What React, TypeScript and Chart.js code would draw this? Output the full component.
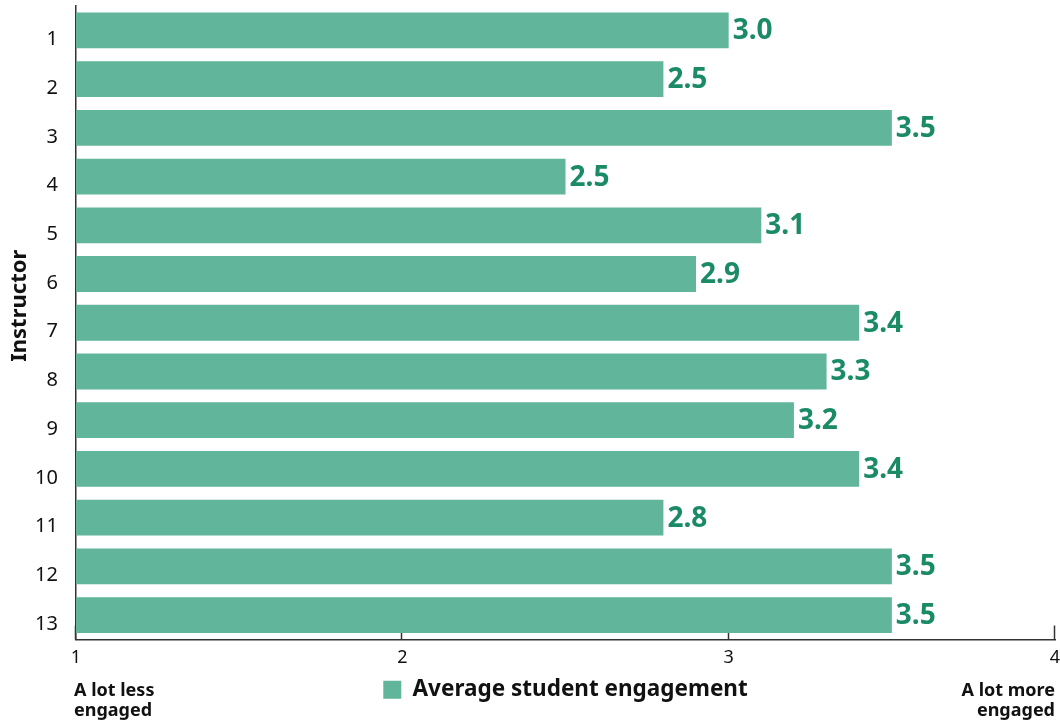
import React, { useEffect, useRef } from "react";
import { Chart, registerables } from "chart.js";

Chart.register(...registerables);

const categories = ["1", "2", "3", "4", "5", "6", "7", "8", "9", "10", "11", "12", "13"];
const engagement = [3.0, 2.8, 3.5, 2.5, 3.1, 2.9, 3.4, 3.3, 3.2, 3.4, 2.8, 3.5, 3.5];
const valueLabels = ["3.0", "2.5", "3.5", "2.5", "3.1", "2.9", "3.4", "3.3", "3.2", "3.4", "2.8", "3.5", "3.5"];
const xMin = 1;
const xMax = 4;
const leftEndLabel = ["A lot less", "engaged"];
const rightEndLabel = ["A lot more", "engaged"];
const seriesName = "Average student engagement";
const yTitle = "Instructor";

const FONT = "'Noto Sans', sans-serif";
const BAR = "#60b59b";
const LABEL = "#1b8a66";
const INK = "#111111";
const AXIS = "#333333";

const extras = {
  id: "extras",
  beforeDatasetsDraw(chart: any) {
    const { ctx, chartArea } = chart;
    const xs = chart.scales.x;
    ctx.save();
    ctx.strokeStyle = AXIS;
    ctx.lineWidth = 1.5;
    for (let v = xMin; v <= xMax; v++) {
      const px = Math.round(xs.getPixelForValue(v)) - 0.5;
      ctx.beginPath();
      ctx.moveTo(px, chartArea.bottom);
      ctx.lineTo(px, chartArea.bottom - 14);
      ctx.stroke();
    }
    ctx.restore();
  },
  afterDatasetsDraw(chart: any) {
    const { ctx } = chart;
    const meta = chart.getDatasetMeta(0);
    ctx.save();
    ctx.fillStyle = LABEL;
    ctx.font = `bold 28px ${FONT}`;
    ctx.textAlign = "left";
    ctx.textBaseline = "middle";
    meta.data.forEach((bar: any, i: number) => {
      ctx.fillText(valueLabels[i], bar.x + 4, bar.y + 1);
    });
    ctx.restore();
  },
  afterDraw(chart: any) {
    const { ctx, chartArea } = chart;
    const xs = chart.scales.x;
    ctx.save();
    ctx.fillStyle = INK;
    ctx.font = `bold 18px ${FONT}`;
    ctx.textBaseline = "alphabetic";
    const x1 = xs.getPixelForValue(xMin);
    const x4 = xs.getPixelForValue(xMax);
    ctx.textAlign = "left";
    leftEndLabel.forEach((t, i) => ctx.fillText(t, x1 - 2, chartArea.bottom + 56 + i * 20));
    ctx.textAlign = "right";
    rightEndLabel.forEach((t, i) => ctx.fillText(t, x4, chartArea.bottom + 56 + i * 20));
    // y-axis title
    ctx.font = `bold 22px ${FONT}`;
    ctx.translate(20, (chartArea.top + chartArea.bottom) / 2 - 17);
    ctx.rotate(-Math.PI / 2);
    ctx.textAlign = "center";
    ctx.textBaseline = "middle";
    ctx.fillText(yTitle, 0, 0);
    ctx.restore();
  },
};

export default function App() {
  const ref = useRef<HTMLCanvasElement>(null);
  useEffect(() => {
    if (!ref.current) return;
    const chart = new Chart(ref.current, {
      type: "bar",
      data: {
        labels: categories,
        datasets: [
          {
            label: seriesName,
            data: engagement,
            backgroundColor: BAR,
            borderWidth: 0,
            categoryPercentage: 1,
            barPercentage: 0.735,
          },
        ],
      },
      options: {
        indexAxis: "y",
        animation: false,
        responsive: false,
        maintainAspectRatio: false,
        layout: { padding: { top: 6, right: 5, left: 0, bottom: 10 } },
        plugins: {
          legend: {
            position: "bottom",
            fullSize: false,
            labels: {
              boxWidth: 18,
              boxHeight: 18,
              padding: 3,
              color: INK,
              font: { family: FONT, size: 22.5, weight: "bold" },
            },
          },
          tooltip: { enabled: false },
        },
        scales: {
          x: {
            type: "linear",
            min: xMin,
            max: xMax,
            ticks: {
              stepSize: 1,
              color: INK,
              padding: 0,
              font: { family: FONT, size: 18 },
            },
            grid: { display: false },
            border: { display: true, color: AXIS, width: 1.5 },
            afterFit: (s: any) => {
              s.height = 36;
              s.paddingLeft = 0;
              s.paddingRight = 0;
              s.paddingTop = 0;
              s.paddingBottom = 0;
            },
          },
          y: {
            ticks: {
              color: INK,
              padding: 10,
              labelOffset: 9,
              font: { family: FONT, size: 20 },
            },
            grid: { display: false },
            border: { display: true, color: AXIS, width: 1.5 },
            afterFit: (s: any) => {
              s.width = 76;
              s.paddingTop = 0;
              s.paddingBottom = 0;
              s.paddingLeft = 0;
              s.paddingRight = 0;
            },
          },
        },
      },
      plugins: [extras],
    });
    return () => chart.destroy();
  }, []);
  return (
    <div style={{ position: "absolute", left: 0, top: 0, width: 1060, height: 721 }}>
      <canvas ref={ref} width={1060} height={721} />
    </div>
  );
}
